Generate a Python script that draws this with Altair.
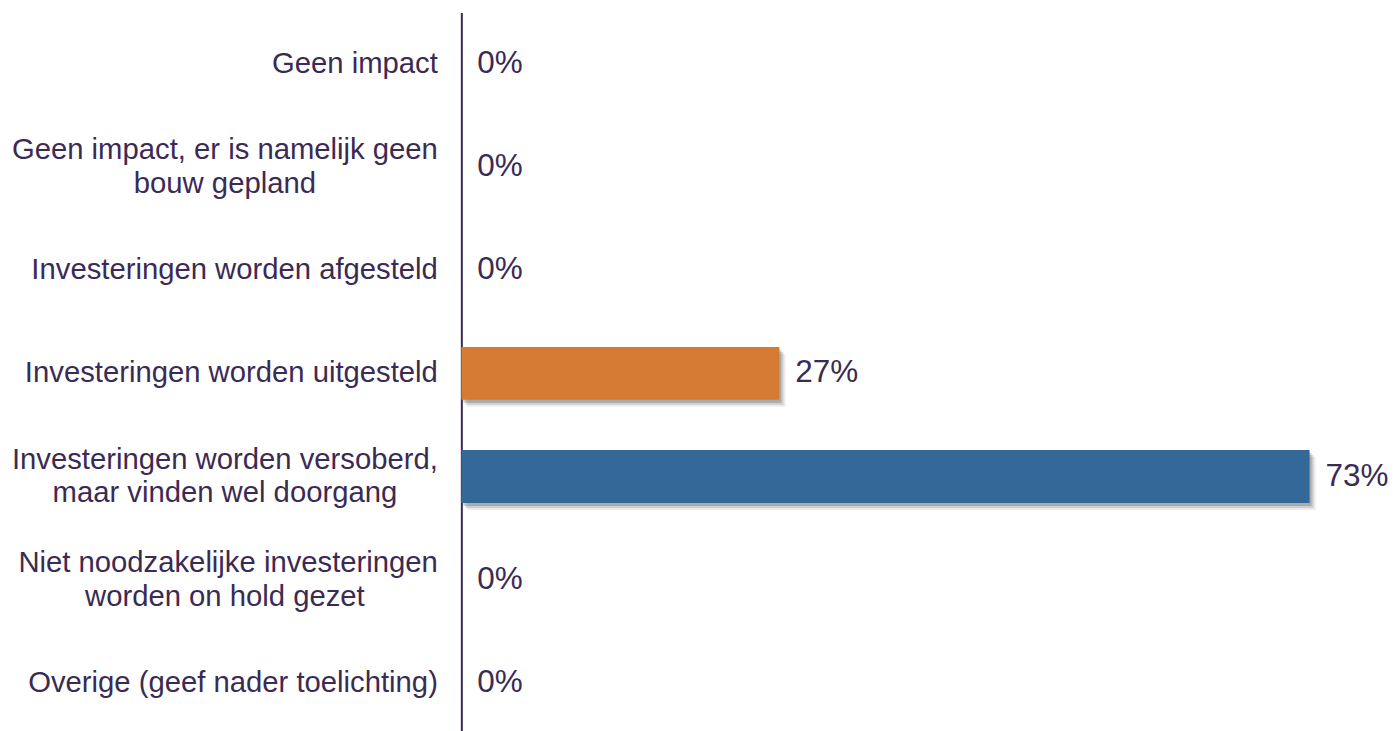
import altair as alt
import pandas as pd

NB = "\u00a0"
END = "\u200d"
categories = [
    "Geen impact",
    "Geen impact, er is namelijk geen|bouw gepland" + NB * 15 + END,
    "Investeringen worden afgesteld",
    "Investeringen worden uitgesteld",
    "Investeringen worden versoberd,|maar vinden wel doorgang" + NB * 5 + END,
    "Niet noodzakelijke investeringen|worden on hold gezet" + NB * 9 + END,
    "Overige (geef nader toelichting)",
]
values = [0, 0, 0, 27.27, 72.73, 0, 0]
palette = ["#D67B34", "#D67B34", "#D67B34", "#D67B34", "#336899", "#D67B34", "#D67B34"]

TEXT = "#3A2B55"
FONT = "Liberation Sans"

df = pd.DataFrame({"cat": categories, "value": values})

y = alt.Y(
    "cat:N",
    sort=categories,
    title=None,
    scale=alt.Scale(paddingInner=0.487, paddingOuter=0.2236, align=0.541),
    axis=alt.Axis(
        domain=True, domainColor=TEXT, domainWidth=2, ticks=False,
        labelFontSize=29.3, labelColor=TEXT, labelFont=FONT, labelPadding=24,
        labelLineHeight=34, labelLimit=700, labelAlign="right",
        labelOffset={"condition": {"test": "indexof(datum.label, '|') >= 0", "value": -17}, "value": 0},
        labelExpr="split(datum.label, '|')",
    ),
)
x = alt.X("value:Q", scale=alt.Scale(domain=[0, 78], nice=False), axis=None)

base = alt.Chart(df)

shadows = [
    base.transform_filter("datum.value > 0").mark_bar(color="#444444", opacity=op, xOffset=dx, yOffset=dy).encode(x=x, y=y)
    for dx, dy, op in [(6, 7, 0.10), (4, 5, 0.18), (2, 3, 0.25)]
]

bars = base.mark_bar().encode(
    x=x, y=y,
    color=alt.Color("cat:N", scale=alt.Scale(domain=categories, range=palette), legend=None),
)

labels = base.transform_calculate(
    lbl="format(datum.value, '.0f') + '%'"
).mark_text(
    align="left", baseline="middle", dx=16, fontSize=31.5, font=FONT, color=TEXT
).encode(x=x, y=y, text="lbl:N")

chart = alt.layer(*shadows, bars, labels).properties(
    width=911, height=719,
    padding={"left": 454, "top": 4, "right": 20, "bottom": 0},
    autosize=alt.AutoSizeParams(type="none"),
).configure_view(stroke=None)

chart.save("out.html", embed_options={"renderer": "svg", "actions": False})
